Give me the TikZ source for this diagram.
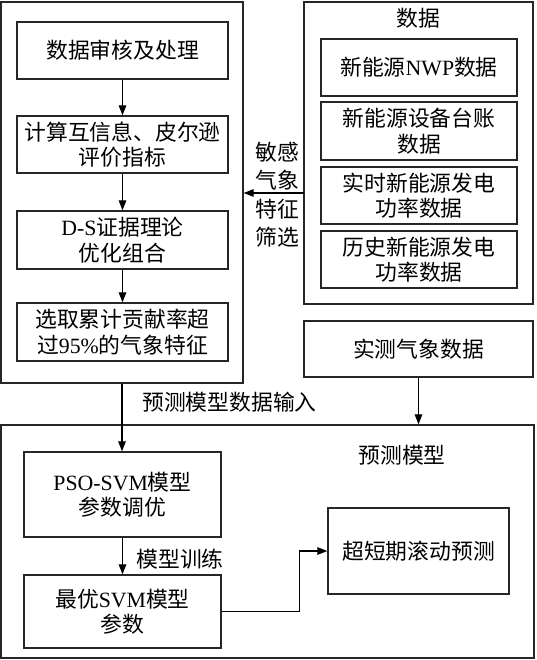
\documentclass[tikz,border=0pt]{standalone}
\usepackage{fontspec}
\setmainfont{Liberation Serif}
\newfontfamily\cjk{Noto Sans CJK SC}
\usetikzlibrary{arrows.meta}
\begin{document}
\begin{tikzpicture}[x=1pt,y=-1pt,
  box/.style={draw=black!85,line width=1.3pt,inner sep=0pt,align=center,
    font=\fontsize{21.8}{25.5}\cjk},
  lbl/.style={inner sep=0pt,align=center,font=\fontsize{21.8}{28}\cjk},
  arr/.style={draw=black,line width=1.2pt,-{Triangle[length=10pt,width=7.5pt]}},
  ln/.style={draw=black,line width=1.2pt}]
\useasboundingbox (0,0) rectangle (536,660);
% left column
\node[box,minimum width=242pt,minimum height=381pt] (outerL) at (122,192.5) {};
\node[box,minimum width=211pt,minimum height=57pt] (b1) at (122.5,50.5) {数据审核及处理};
\node[box,minimum width=211pt,minimum height=57pt] (b2) at (122.5,144.5) {计算互信息、皮尔逊\\评价指标};
\node[box,minimum width=211pt,minimum height=58pt] (b3) at (122.5,240) {{\rmfamily D-S}证据理论\\优化组合};
\node[box,minimum width=211pt,minimum height=58pt] (b4) at (122.5,332) {选取累计贡献率超\\过{\rmfamily 95\%}的气象特征};
\draw[arr] (b1) -- (b2);
\draw[arr] (b2) -- (b3);
\draw[arr] (b3) -- (b4);
% data
\node[box,minimum width=229pt,minimum height=302pt] (dataBox) at (418.5,153) {};
\node[lbl] (dtitle) at (418.5,18) {数据};
\node[box,minimum width=196pt,minimum height=57pt] (d1) at (419,67.5) {新能源{\rmfamily NWP}数据};
\node[box,minimum width=196pt,minimum height=58pt] (d2) at (419,131) {新能源设备台账\\数据};
\node[box,minimum width=196pt,minimum height=57pt] (d3) at (419,195.5) {实时新能源发电\\功率数据};
\node[box,minimum width=196pt,minimum height=57pt] (d4) at (419,259.5) {历史新能源发电\\功率数据};
\coordinate (sel) at (304,193);
\draw[arr] (sel) -- (sel -| outerL.east);
\node[lbl] (sel1) at (277,166) {敏感\\气象};
\node[lbl] (sel2) at (277,223) {特征\\筛选};
% measured
\node[box,minimum width=229pt,minimum height=56pt] (meas) at (418.5,349) {实测气象数据};
% bottom
\node[box,minimum width=533pt,minimum height=233pt] (bottomBox) at (267.5,541.5) {};
\draw[arr] (meas.south) -- (meas.south |- bottomBox.north);
\node[lbl] (btitle) at (402,455) {预测模型};
\node[box,minimum width=197pt,minimum height=85pt] (pso) at (122.5,494.5) {{\rmfamily PSO-SVM}模型\\参数调优};
\node[box,minimum width=197pt,minimum height=73pt] (best) at (122.5,611.5) {最优{\rmfamily SVM}模型\\参数};
\node[box,minimum width=181pt,minimum height=86pt] (pred) at (418.5,551) {超短期滚动预测};
\draw[arr] (outerL.south) -- (outerL.south |- pso.north);
\node[lbl] (inlbl) at (229.5,402) {预测模型数据输入};
\draw[arr] (pso) -- (best);
\node[lbl] (trlbl) at (180,559) {模型训练};
\draw[arr] (best.east) -- ++(78,0) |- (pred.west);
\end{tikzpicture}
\end{document}
